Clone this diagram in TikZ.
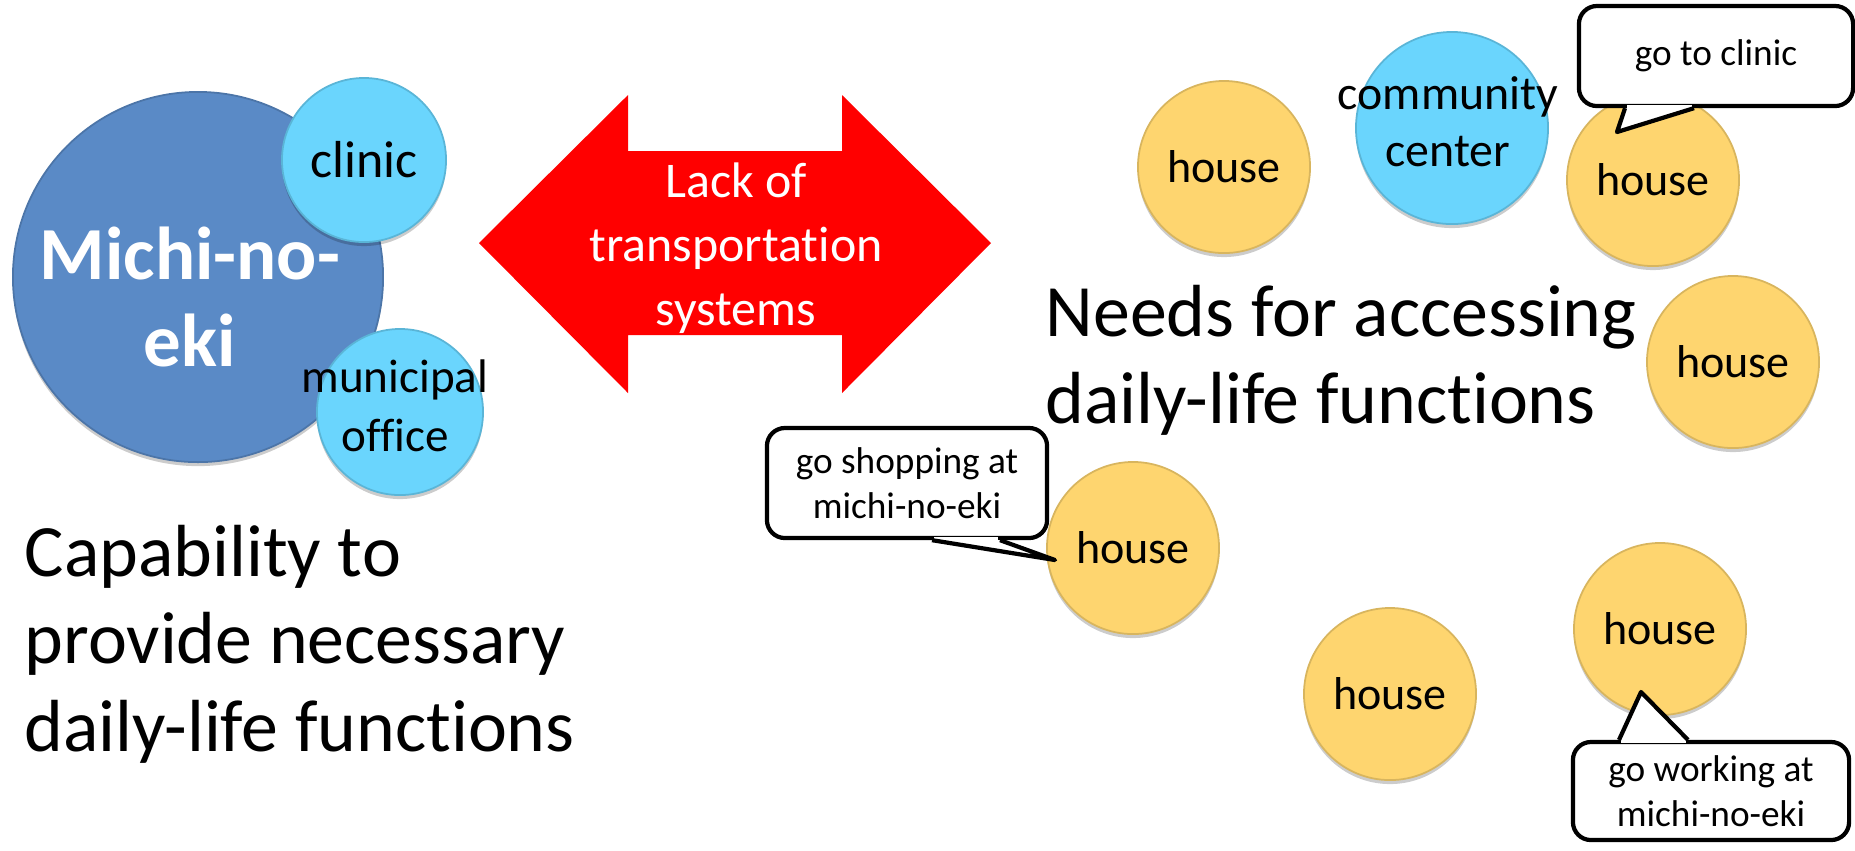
\documentclass[tikz,border=0pt]{standalone}
\usepackage{fontspec}
\setmainfont{Carlito}[Ligatures=NoCommon]
\usepackage{tikz}
\usetikzlibrary{shadows}
\definecolor{michiblue}{HTML}{5A8AC6}
\definecolor{facilblue}{HTML}{6AD5FD}
\definecolor{houseyellow}{HTML}{FED56F}
\newcommand{\fsz}[2]{\fontsize{#1pt}{#2pt}\selectfont}
\newcommand{\nolig}{\kern0pt }

\begin{document}
\begin{tikzpicture}[x=0.01cm, y=-0.01cm,
  disc shadow/.style={drop shadow={shadow xshift=0pt, shadow yshift=-0.04cm, opacity=0.2, fill=black}},
  disc/.style={circle, inner sep=0pt, line width=0.5pt, disc shadow},
  house/.style={disc, fill=houseyellow, draw=houseyellow!85!black, minimum size=1.72cm, font=\fsz{13.1}{15}},
  facility/.style={disc, fill=facilblue, draw=facilblue!85!black},
  bigtext/.style={font=\fsz{21}{25}, align=left, inner sep=0pt},
  callbox/.style={draw, fill=white, line width=1.2pt, rounded corners=0.18cm, align=center, font=\fsz{10.6}{12.8}},
  note line/.style={line width=1.2pt, line join=round}]
\useasboundingbox (0,0) rectangle (1855,850);

% left side: the station and its facilities
\node[disc, fill=michiblue, draw=michiblue!85!black, minimum size=3.7cm] (michi) at (198,277) {};
\node[font=\bfseries\fsz{21.3}{25}, text=white, align=center, inner sep=0pt] (michitext) at (190,297) {Michi-no-\\eki};
\node[facility, minimum size=1.64cm, font=\fsz{14.8}{17}] (clinic) at (364,160) {clinic};
\node[facility, minimum size=1.66cm] (office) at (400,412) {};
\node[font=\fsz{13.4}{16.8}, align=center, inner sep=0pt] (officetext) at (395,406) {municipal\\office};
\node[bigtext, anchor=north west] (capability) at (24,524) {Capability to\\provide necessary\\daily-life funct\nolig ions};

% the gap between both sides
\fill[red] (479,243) -- (628,95) -- (628,151) -- (842,151) -- (842,95) -- (991,243)
  -- (842,393) -- (842,335) -- (628,335) -- (628,393) -- cycle;
\node[font=\fsz{14.2}{18.2}, text=white, align=center, inner sep=0pt] (lack) at (736,248) {Lack of\\transportat\nolig ion\\systems};

% right side: houses
\node[house] (house1) at (1224,167) {house};
\node[facility, minimum size=1.92cm] (community) at (1452,128) {};
\node[font=\fsz{13.6}{16.2}, align=center, inner sep=0pt] (communitytext) at (1448,122) {community\\center};
\node[house] (house2) at (1653,180) {house};
\node[house] (house3) at (1733,362) {house};
\node[house] (house4) at (1133,548) {house};
\node[house] (house5) at (1390,694) {house};
\node[house] (house6) at (1660,629) {house};
\node[bigtext, anchor=north west] (needs) at (1045,284) {Needs for accessing\\daily-life funct\nolig ions};

% callouts
\node[callbox, minimum width=2.74cm, minimum height=1.00cm] (clinicnote) at (1716,56) {go to clinic};
\coordinate (clinictip) at (1617,132);
\fill[white] (1625,0 |- clinicnote.south) -- (clinictip) -- (1694,0 |- clinicnote.south) -- cycle;
\draw[white, line width=1.8pt] (1627,0 |- clinicnote.south) -- (1692,0 |- clinicnote.south);
\draw[note line] (1625,0 |- clinicnote.south) -- (clinictip) -- (1694,0 |- clinicnote.south);

\node[callbox, minimum width=2.80cm, minimum height=1.10cm] (shopnote) at (907,483) {go shopping at\\michi-no-eki};
\coordinate (shoptip) at (1055,560);
\fill[white] (932,0 |- shopnote.south) -- (shoptip) -- (1000,0 |- shopnote.south) -- cycle;
\draw[white, line width=1.8pt] (934,0 |- shopnote.south) -- (998,0 |- shopnote.south);
\draw[note line] (932,0 |- shopnote.south) -- (shoptip) -- (1000,0 |- shopnote.south);

\node[callbox, minimum width=2.76cm, minimum height=0.98cm] (worknote) at (1711,791) {go working at\\michi-no-eki};
\coordinate (worktip) at (1641,692);
\fill[white] (1619,0 |- worknote.north) -- (worktip) -- (1688,0 |- worknote.north) -- cycle;
\draw[white, line width=1.8pt] (1621,0 |- worknote.north) -- (1686,0 |- worknote.north);
\draw[note line] (1619,0 |- worknote.north) -- (worktip) -- (1688,0 |- worknote.north);
\end{tikzpicture}
\end{document}
